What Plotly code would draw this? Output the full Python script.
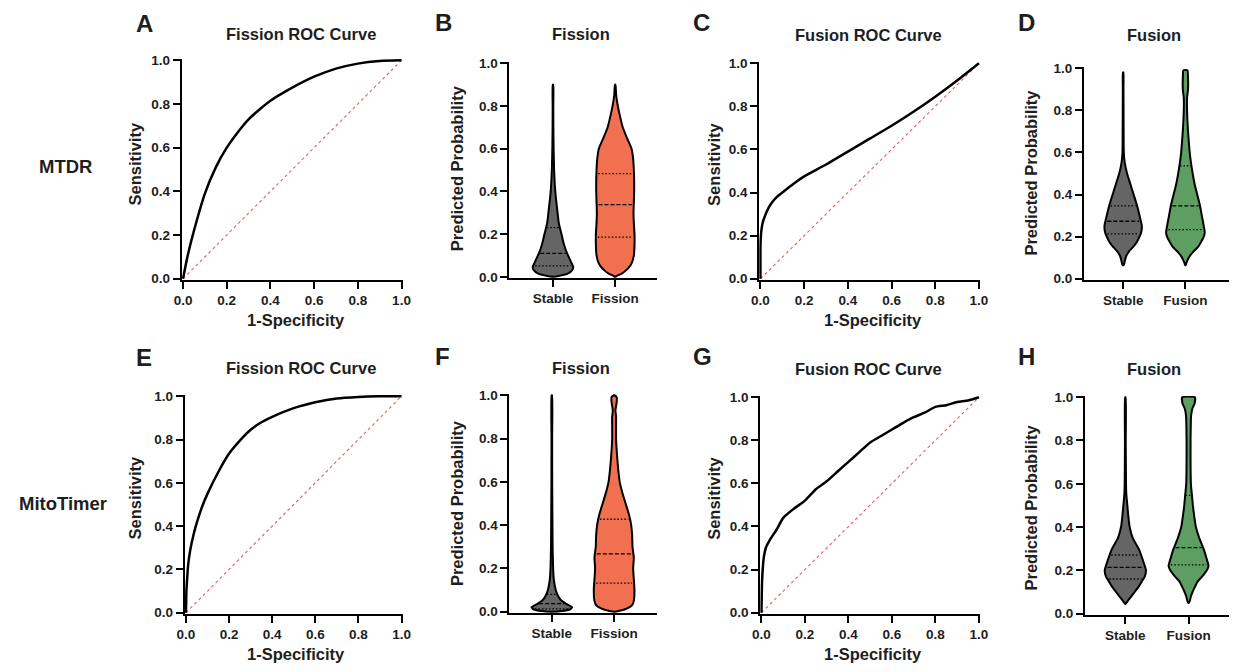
import numpy as np
import plotly.graph_objects as go

W, H = 1238, 672

# ---------------- ROC data ----------------
A_fpr = [0, 0.02, 0.05, 0.1, 0.15, 0.2, 0.25, 0.3, 0.35, 0.4, 0.5, 0.6, 0.7, 0.8, 0.9, 1.0]
A_tpr = [0, 0.1, 0.22, 0.39, 0.51, 0.60, 0.67, 0.73, 0.775, 0.815, 0.875, 0.925, 0.962, 0.985, 0.997, 1.0]

C_fpr = [0, 0, 0.002, 0.005, 0.01, 0.02, 0.035, 0.05, 0.075, 0.1, 0.15, 0.2, 0.3, 0.4, 0.5, 0.6, 0.7, 0.8, 0.9, 1.0]
C_tpr = [0, 0.15, 0.2, 0.23, 0.26, 0.29, 0.325, 0.35, 0.38, 0.40, 0.44, 0.475, 0.53, 0.59, 0.65, 0.71, 0.775, 0.845, 0.92, 1.0]

E_fpr = [0, 0.002, 0.005, 0.01, 0.02, 0.035, 0.05, 0.075, 0.1, 0.15, 0.2, 0.25, 0.3, 0.35, 0.4, 0.5, 0.6, 0.7, 0.8, 0.9, 1.0]
E_tpr = [0, 0.1, 0.15, 0.22, 0.29, 0.36, 0.415, 0.49, 0.55, 0.65, 0.735, 0.795, 0.845, 0.88, 0.905, 0.945, 0.972, 0.99, 0.997, 1.0, 1.0]

G_fpr = [0, 0.003, 0.01, 0.02, 0.04, 0.07, 0.1, 0.15, 0.2, 0.25, 0.3, 0.35, 0.4, 0.45, 0.5,
         0.55, 0.6, 0.65, 0.7, 0.75, 0.8, 0.85, 0.9, 0.95, 1.0]
G_tpr = [0, 0.15, 0.25, 0.30, 0.34, 0.386, 0.44, 0.483, 0.52, 0.573, 0.61, 0.655, 0.70, 0.745, 0.79,
         0.82, 0.85, 0.88, 0.907, 0.928, 0.955, 0.963, 0.978, 0.985, 1.0]

# ---------------- Violin data (probability levels, relative density widths) ----------------
B_stable_y = [0, 0.005, 0.015, 0.03, 0.045, 0.06, 0.08, 0.1, 0.13, 0.16, 0.2, 0.25, 0.3, 0.4, 0.5, 0.6, 0.7, 0.8, 0.9]
B_stable_d = [0, 20, 45, 58, 62, 58, 52, 46, 38, 32, 26, 18, 14, 7, 3.5, 2, 1.2, 1, 0.5]
B_stable_q = [0.051, 0.11, 0.23]
B_fission_y = [0, 0.005, 0.015, 0.03, 0.05, 0.07, 0.1, 0.15, 0.2, 0.25, 0.3, 0.35, 0.4, 0.45, 0.5,
               0.55, 0.6, 0.65, 0.7, 0.75, 0.8, 0.85, 0.9]
B_fission_d = [0, 6, 20, 33, 45, 52, 57, 59, 59, 57, 56, 57, 58, 58, 57, 55, 50, 36, 23, 15, 8, 3, 0.5]
B_fission_q = [0.186, 0.338, 0.483]

D_stable_y = [0.065, 0.07, 0.09, 0.11, 0.13, 0.15, 0.17, 0.2, 0.22, 0.25, 0.3, 0.35, 0.4, 0.45, 0.5,
              0.55, 0.6, 0.7, 0.8, 0.9, 0.98]
D_stable_d = [0, 3, 6, 10, 18, 30, 40, 50, 55, 57, 50, 42, 32, 22, 12, 5, 2, 1.5, 1.2, 1, 0.5]
D_stable_q = [0.213, 0.273, 0.346]
D_fusion_y = [0.065, 0.075, 0.09, 0.11, 0.13, 0.15, 0.17, 0.2, 0.22, 0.25, 0.3, 0.35, 0.4, 0.45, 0.5,
              0.55, 0.6, 0.7, 0.8, 0.86, 0.9, 0.95, 0.99]
D_fusion_d = [0, 3, 7, 14, 25, 38, 46, 56, 59, 56, 50, 44, 36, 28, 22, 17, 13, 8, 5, 5, 8, 8, 6]
D_fusion_q = [0.233, 0.346, 0.536]

F_stable_y = [0, 0.003, 0.01, 0.02, 0.035, 0.05, 0.07, 0.1, 0.15, 0.2, 0.3, 0.4, 0.6, 0.8, 1.0]
F_stable_d = [0, 30, 55, 62, 45, 30, 20, 12, 6, 4, 2.5, 2, 1.2, 1, 0.5]
F_stable_q = [0.013, 0.037, 0.08]
F_fission_y = [0, 0.005, 0.015, 0.03, 0.05, 0.1, 0.15, 0.2, 0.25, 0.3, 0.35, 0.4, 0.45, 0.5, 0.55,
               0.6, 0.65, 0.7, 0.8, 0.9, 0.93, 0.97, 0.99, 1.0]
F_fission_d = [0, 20, 40, 55, 60, 62, 60, 58, 60, 56, 55, 52, 45, 35, 25, 17, 13, 10, 6, 6, 4, 8, 8, 0]
F_fission_q = [0.132, 0.267, 0.427]

H_stable_y = [0.045, 0.06, 0.08, 0.1, 0.12, 0.15, 0.17, 0.2, 0.25, 0.3, 0.35, 0.4, 0.45, 0.5, 0.55, 0.6, 0.8, 1.0]
H_stable_d = [0, 8, 18, 28, 38, 50, 58, 62, 52, 40, 22, 13, 9, 6, 3, 2, 1.2, 0.5]
H_stable_q = [0.16, 0.214, 0.271]
H_fusion_y = [0.05, 0.06, 0.08, 0.1, 0.12, 0.15, 0.17, 0.2, 0.22, 0.25, 0.3, 0.35, 0.4, 0.45, 0.5,
              0.55, 0.6, 0.7, 0.8, 0.9, 0.92, 0.95, 0.97, 1.0]
H_fusion_d = [0, 4, 7, 12, 18, 28, 40, 55, 60, 55, 45, 32, 22, 17, 13, 10, 7, 6, 6, 7, 8, 12, 18, 19]
H_fusion_q = [0.225, 0.305, 0.546]

ROW_LABELS = ["MTDR", "MitoTimer"]
PANEL_LETTERS = ["A", "B", "C", "D", "E", "F", "G", "H"]
ROC_TITLES = ["Fission ROC Curve", "Fusion ROC Curve"]
VIOLIN_TITLES = ["Fission", "Fusion"]
TICKS = [0.0, 0.2, 0.4, 0.6, 0.8, 1.0]

# ---------------- styling ----------------
FONT = "Arial, Liberation Sans, sans-serif"
TXT = "#1e1e1e"
GRAY = "#656565"
ORANGE = "#F0704F"
GREEN = "#5F9E63"
DENS_SCALE = 1 / 190.0   # density width -> category units

fig = go.Figure()


def xd(p0, p1):
    return [p0 / W, p1 / W]


def yd(top, bot):
    return [1 - bot / H, 1 - top / H]


# panel geometry (pixels): x0, x1, ytop, ybot
panels = {
    1: (176, 400, 54, 279),   # A
    2: (508, 658, 57, 277),   # B
    3: (761, 985, 57, 279),   # C
    4: (1090, 1237, 62, 279), # D
    5: (179, 400, 396, 619),  # E
    6: (508, 657, 395, 618),  # F
    7: (762, 985, 397, 619),  # G
    8: (1091, 1237, 397, 620) # H
}
violin_xrange = {2: [-0.70, 1.68], 4: [-0.63, 1.70], 6: [-0.68, 1.68], 8: [-0.64, 1.64]}
violin_cats = {2: ["Stable", "Fission"], 4: ["Stable", "Fusion"], 6: ["Stable", "Fission"], 8: ["Stable", "Fusion"]}

axis_common = dict(showline=True, linewidth=2, linecolor="black", ticks="outside", ticklen=7,
                   tickwidth=2, tickcolor="black", showgrid=False, zeroline=False,
                   tickfont=dict(family=FONT, size=13.5, color=TXT, weight=700))

layout = {}
for i, (x0, x1, yt, yb) in panels.items():
    xs = "xaxis" if i == 1 else f"xaxis{i}"
    ys = "yaxis" if i == 1 else f"yaxis{i}"
    xa = dict(axis_common, domain=xd(x0, x1), anchor=f"y{i if i > 1 else ''}")
    ya = dict(axis_common, domain=yd(yt, yb), anchor=f"x{i if i > 1 else ''}",
              range=[-0.006, 1.006], tickvals=TICKS, ticktext=[f"{t:.1f}" for t in TICKS])
    if i in violin_xrange:
        xa.update(range=violin_xrange[i], tickvals=[0, 1], ticktext=violin_cats[i])
    else:
        xa.update(range=[-0.006, 1.006], tickvals=TICKS, ticktext=[f"{t:.1f}" for t in TICKS])
    layout[xs] = xa
    layout[ys] = ya


def axn(i):
    return ("x" if i == 1 else f"x{i}", "y" if i == 1 else f"y{i}")


# ROC curves
for i, fpr, tpr in [(1, A_fpr, A_tpr), (3, C_fpr, C_tpr), (5, E_fpr, E_tpr), (7, G_fpr, G_tpr)]:
    xa, ya = axn(i)
    fig.add_trace(go.Scatter(x=[0, 1], y=[0, 1], mode="lines", xaxis=xa, yaxis=ya,
                             line=dict(color="#F25A5A", width=1.1, dash="dot"), showlegend=False,
                             hoverinfo="skip"))
    fig.add_trace(go.Scatter(x=fpr, y=tpr, mode="lines", xaxis=xa, yaxis=ya,
                             line=dict(color="black", width=2.5, shape="spline", smoothing=0.6),
                             showlegend=False))


def add_violin(i, center, ys, ds, qs, color):
    xa, ya = axn(i)
    ys = np.asarray(ys, float)
    hw = np.asarray(ds, float) * DENS_SCALE
    hw = np.maximum(hw, 0.004)
    px = np.concatenate([center + hw, (center - hw)[::-1]])
    py = np.concatenate([ys, ys[::-1]])
    px = np.append(px, px[0])
    py = np.append(py, py[0])
    fig.add_trace(go.Scatter(x=px, y=py, mode="lines", fill="toself", fillcolor=color,
                             xaxis=xa, yaxis=ya,
                             line=dict(color="black", width=2, shape="spline", smoothing=0.5),
                             showlegend=False, hoverinfo="skip"))
    for k, q in enumerate(qs):
        w = float(np.interp(q, ys, hw)) * 0.9
        dash = "4px,2px" if k == 1 else "1.5px,2px"
        fig.add_trace(go.Scatter(x=[center - w, center + w], y=[q, q], mode="lines",
                                 xaxis=xa, yaxis=ya,
                                 line=dict(color="black", width=1.3, dash=dash),
                                 showlegend=False, hoverinfo="skip"))


add_violin(2, 0, B_stable_y, B_stable_d, B_stable_q, GRAY)
add_violin(2, 1, B_fission_y, B_fission_d, B_fission_q, ORANGE)
add_violin(4, 0, D_stable_y, D_stable_d, D_stable_q, GRAY)
add_violin(4, 1, D_fusion_y, D_fusion_d, D_fusion_q, GREEN)
add_violin(6, 0, F_stable_y, F_stable_d, F_stable_q, GRAY)
add_violin(6, 1, F_fission_y, F_fission_d, F_fission_q, ORANGE)
add_violin(8, 0, H_stable_y, H_stable_d, H_stable_q, GRAY)
add_violin(8, 1, H_fusion_y, H_fusion_d, H_fusion_q, GREEN)

# ---------------- annotations ----------------
ann = []


def txt(x, y, s, size, angle=0, xanchor="center"):
    ann.append(dict(x=x / W, y=1 - y / H, xref="paper", yref="paper", text=s, showarrow=False,
                    textangle=angle, xanchor=xanchor, yanchor="middle",
                    font=dict(family=FONT, size=size, color=TXT, weight=700)))


letter_pos = [(128, 18), (431, 17), (692, 17), (1021, 17), (128, 358), (431, 357), (692, 357), (1021, 357)]
for L, (x, y) in zip(PANEL_LETTERS, letter_pos):
    txt(x, y, L, 24, xanchor="left")

titles = [(297, 29, ROC_TITLES[0]), (581, 29, VIOLIN_TITLES[0]), (872, 30, ROC_TITLES[1]),
          (1161, 30, VIOLIN_TITLES[1]),
          (297, 369, ROC_TITLES[0]), (581, 369, VIOLIN_TITLES[0]), (872, 370, ROC_TITLES[1]),
          (1161, 370, VIOLIN_TITLES[1])]
for x, y, s in titles:
    txt(x, y, s, 16.5)

for x, y in [(292, 320), (876, 320), (292, 660), (876, 660)]:
    txt(x, y, "1-Specificity", 16.5)
for x, y in [(129, 161), (715, 161), (129, 501), (715, 501)]:
    txt(x, y, "Sensitivity", 16.5, angle=-90)
for x, y in [(455, 165), (1036, 170), (455, 506), (1036, 511)]:
    txt(x, y, "Predicted Probability", 16.5, angle=-90)

txt(58, 163, ROW_LABELS[0], 18.5)
txt(56, 507, ROW_LABELS[1], 18.5)

fig.update_layout(width=W, height=H, margin=dict(l=0, r=0, t=0, b=0),
                  paper_bgcolor="white", plot_bgcolor="white", annotations=ann,
                  showlegend=False, **layout)

fig.write_html("out.html", config={"displayModeBar": False},
               post_script="document.body.style.margin='0';document.body.style.overflow='hidden';")
